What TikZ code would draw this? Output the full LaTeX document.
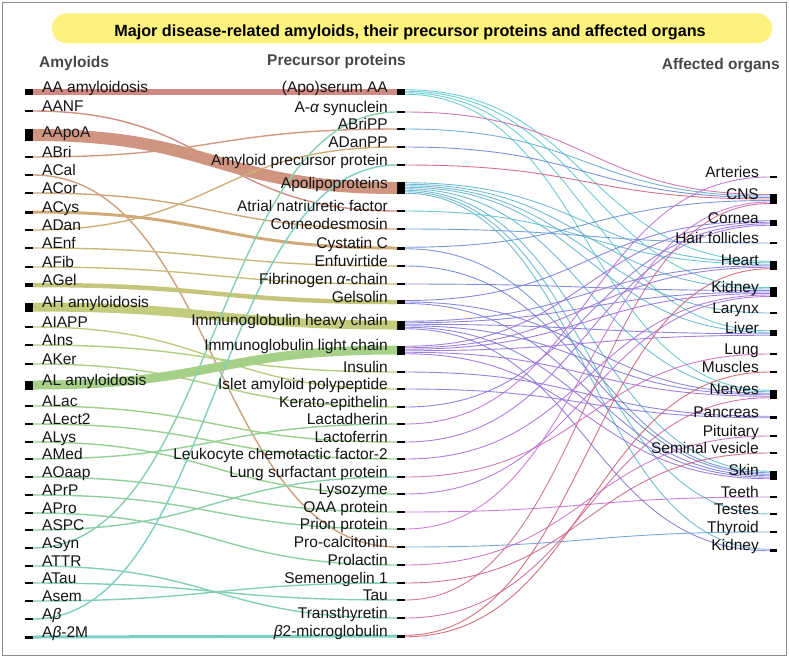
\documentclass[tikz,border=0pt]{standalone}
\usepackage{fontspec}
\setmainfont{Liberation Sans}
\usepackage{tikz}
\usetikzlibrary{calc,positioning}
% gradient anchors (organ links)
\definecolor{R0}{HTML}{5EC8CC}
\definecolor{R1}{HTML}{6C86D6}
\definecolor{R2}{HTML}{9070DC}
\definecolor{R3}{HTML}{C870D0}
\definecolor{R4}{HTML}{D0606E}
% gradient anchors (amyloid links)
\definecolor{L0}{HTML}{D08A84}
\definecolor{L1}{HTML}{D0AA78}
\definecolor{L2}{HTML}{C2CC7C}
\definecolor{L3}{HTML}{98D08C}
\definecolor{L4}{HTML}{7CCFC4}
\definecolor{titleyellow}{HTML}{FDF27E}

\begin{document}
\begin{tikzpicture}[x=1pt,y=-1pt]
  \tikzset{
    amybar/.style={fill=black, inner sep=0pt, outer sep=0pt, minimum width=8pt, minimum height=2.2pt},
    prebar/.style={amybar},
    orgbar/.style={amybar, minimum width=7.5pt},
    lbl/.style={font=\fontsize{15.5}{18}\selectfont, text=black!92, inner sep=0pt},
    amylbl/.style={lbl, anchor=base west},
    prelbl/.style={lbl, anchor=base east},
    orglbl/.style={lbl, anchor=base east},
    hdr/.style={font=\bfseries\fontsize{15.5}{18}\selectfont, text=black!72, inner sep=0pt},
    flow/.style={to path={.. controls +(182,0) and +(-182,0) .. (\tikztotarget)}},
    alink/.style={line cap=butt},
    olink/.style={line width=0.9pt, opacity=0.9},
    outerframe/.style={draw=black!45, line width=1pt},
    titlebox/.style={fill=titleyellow, rounded corners=15pt, minimum width=720pt, minimum height=30pt, inner sep=0pt}
  }
  \useasboundingbox (0,0) rectangle (789,657);
  \draw[outerframe] (2,2) rectangle (786,655);

  % ================= TITLE + HEADERS =================
  \node[titlebox] (tbox) at (412,28.3) {};
  \node[font=\bfseries\fontsize{16.2}{19}\selectfont, anchor=base, inner sep=0pt] (title) at (410,36)
    {Major disease-related amyloids, their precursor proteins and affected organs};
  \node[hdr, anchor=base west] (hamy) at (39,67) {Amyloids};
  \node[hdr, anchor=base west] (hpre) at (267,65) {Precursor proteins};
  \node[hdr, anchor=base east] (horg) at (780,69) {Affected organs};

  % ================= BARS: amyloids =================
  \node[amybar, minimum height=6pt] (am0) at (29,92) {};
  \node[amybar] (am1) at (29,111) {};
  \node[amybar, minimum height=12pt] (am2) at (29,135) {};
  \node[amybar] (am3) at (29,157) {};
  \node[amybar] (am4) at (29,175) {};
  \node[amybar] (am5) at (29,193) {};
  \node[amybar, minimum height=3pt] (am6) at (29,212) {};
  \node[amybar] (am7) at (29,230) {};
  \node[amybar] (am8) at (29,248) {};
  \node[amybar] (am9) at (29,267) {};
  \node[amybar, minimum height=4.5pt] (am10) at (29,285) {};
  \node[amybar, minimum height=9pt] (am11) at (29,307) {};
  \node[amybar] (am12) at (29,327) {};
  \node[amybar] (am13) at (29,345) {};
  \node[amybar] (am14) at (29,364) {};
  \node[amybar, minimum height=9pt] (am15) at (29,385) {};
  \node[amybar] (am16) at (29,406) {};
  \node[amybar] (am17) at (29,424) {};
  \node[amybar] (am18) at (29,442) {};
  \node[amybar] (am19) at (29,459) {};
  \node[amybar] (am20) at (29,477) {};
  \node[amybar] (am21) at (29,495) {};
  \node[amybar] (am22) at (29,513) {};
  \node[amybar] (am23) at (29,530) {};
  \node[amybar] (am24) at (29,548) {};
  \node[amybar] (am25) at (29,566) {};
  \node[amybar] (am26) at (29,583) {};
  \node[amybar] (am27) at (29,601) {};
  \node[amybar] (am28) at (29,619) {};
  \node[amybar, minimum height=3pt] (am29) at (29,637) {};

  % ================= BARS: precursors =================
  \node[prebar, minimum height=6pt] (pr0) at (401,92) {};
  \node[prebar] (pr1) at (401,112) {};
  \node[prebar] (pr2) at (401,129) {};
  \node[prebar] (pr3) at (401,147) {};
  \node[prebar] (pr4) at (401,165) {};
  \node[prebar, minimum height=12pt] (pr5) at (401,188) {};
  \node[prebar] (pr6) at (401,211) {};
  \node[prebar] (pr7) at (401,229) {};
  \node[prebar, minimum height=3pt] (pr8) at (401,248) {};
  \node[prebar] (pr9) at (401,266) {};
  \node[prebar] (pr10) at (401,284) {};
  \node[prebar, minimum height=4.5pt] (pr11) at (401,302) {};
  \node[prebar, minimum height=9pt] (pr12) at (401,325) {};
  \node[prebar, minimum height=9pt] (pr13) at (401,350) {};
  \node[prebar] (pr14) at (401,372) {};
  \node[prebar] (pr15) at (401,389) {};
  \node[prebar] (pr16) at (401,407) {};
  \node[prebar] (pr17) at (401,424) {};
  \node[prebar] (pr18) at (401,442) {};
  \node[prebar] (pr19) at (401,459) {};
  \node[prebar] (pr20) at (401,477) {};
  \node[prebar] (pr21) at (401,494) {};
  \node[prebar] (pr22) at (401,512) {};
  \node[prebar] (pr23) at (401,529) {};
  \node[prebar] (pr24) at (401,547) {};
  \node[prebar] (pr25) at (401,565) {};
  \node[prebar] (pr26) at (401,583) {};
  \node[prebar] (pr27) at (401,600) {};
  \node[prebar] (pr28) at (401,618) {};
  \node[prebar, minimum height=3pt] (pr29) at (401,636) {};

  % ================= BARS: organs =================
  \node[orgbar] (og0) at (773.5,177) {};
  \node[orgbar, minimum height=10.5pt] (og1) at (773.5,199) {};
  \node[orgbar, minimum height=6pt] (og2) at (773.5,223) {};
  \node[orgbar] (og3) at (773.5,243) {};
  \node[orgbar, minimum height=9pt] (og4) at (773.5,265) {};
  \node[orgbar, minimum height=10.5pt] (og5) at (773.5,292) {};
  \node[orgbar] (og6) at (773.5,313) {};
  \node[orgbar, minimum height=6pt] (og7) at (773.5,333) {};
  \node[orgbar] (og8) at (773.5,354) {};
  \node[orgbar] (og9) at (773.5,372) {};
  \node[orgbar, minimum height=9pt] (og10) at (773.5,394) {};
  \node[orgbar, minimum height=3pt] (og11) at (773.5,417) {};
  \node[orgbar] (og12) at (773.5,436) {};
  \node[orgbar] (og13) at (773.5,453) {};
  \node[orgbar, minimum height=9pt] (og14) at (773.5,475) {};
  \node[orgbar] (og15) at (773.5,497) {};
  \node[orgbar] (og16) at (773.5,514) {};
  \node[orgbar] (og17) at (773.5,532) {};
  \node[orgbar, minimum height=3pt] (og18) at (773.5,550) {};

  % ================= LINKS: precursor -> organ =================
  \draw[olink, draw=R0] ($(pr0.east)+(0,-2.25)$) to[flow] ($(og4.west)+(0,-3.75)$);
  \draw[olink, draw=R0] ($(pr0.east)+(0,-0.75)$) to[flow] ($(og5.west)+(0,-4.5)$);
  \draw[olink, draw=R0] ($(pr0.east)+(0,0.75)$) to[flow] ($(og7.west)+(0,-2.25)$);
  \draw[olink, draw=R0] ($(pr0.east)+(0,2.25)$) to[flow] ($(og10.west)+(0,-3.75)$);
  \draw[olink, draw=R3!62!R4] (pr1.east) to[flow] ($(og1.west)+(0,-4.5)$);
  \draw[olink, draw=R0!57!R1] (pr2.east) to[flow] ($(og1.west)+(0,-3)$);
  \draw[olink, draw=R1] (pr3.east) to[flow] ($(og1.west)+(0,-1.5)$);
  \draw[olink, draw=R3!12!R4] (pr4.east) to[flow] (og1.west);
  \draw[olink, draw=R0!71!R1] ($(pr5.east)+(0,-5.25)$) to[flow] ($(og4.west)+(0,-2.25)$);
  \draw[olink, draw=R0!71!R1] ($(pr5.east)+(0,-3.75)$) to[flow] ($(og5.west)+(0,-3)$);
  \draw[olink, draw=R0!71!R1] ($(pr5.east)+(0,-2.25)$) to[flow] (og6.west);
  \draw[olink, draw=R0!71!R1] ($(pr5.east)+(0,-0.75)$) to[flow] ($(og7.west)+(0,-0.75)$);
  \draw[olink, draw=R0!71!R1] ($(pr5.east)+(0,0.75)$) to[flow] ($(og10.west)+(0,-2.25)$);
  \draw[olink, draw=R0!71!R1] ($(pr5.east)+(0,2.25)$) to[flow] ($(og14.west)+(0,-3.75)$);
  \draw[olink, draw=R0!71!R1] ($(pr5.east)+(0,3.75)$) to[flow] (og16.west);
  \draw[olink, draw=R0!71!R1] ($(pr5.east)+(0,5.25)$) to[flow] ($(og18.west)+(0,-0.75)$);
  \draw[olink, draw=R0!86!R1] (pr6.east) to[flow] ($(og4.west)+(0,-0.75)$);
  \draw[olink, draw=R0!29!R1] (pr7.east) to[flow] (og3.west);
  \draw[olink, draw=R0!14!R1] ($(pr8.east)+(0,-0.75)$) to[flow] ($(og1.west)+(0,1.5)$);
  \draw[olink, draw=R0!14!R1] ($(pr8.east)+(0,0.75)$) to[flow] ($(og14.west)+(0,-2.25)$);
  \draw[olink, draw=R1!86!R2] (pr9.east) to[flow] ($(og14.west)+(0,-0.75)$);
  \draw[olink, draw=R1!71!R2] (pr10.east) to[flow] ($(og5.west)+(0,-1.5)$);
  \draw[olink, draw=R1!57!R2] ($(pr11.east)+(0,-1.5)$) to[flow] ($(og2.west)+(0,-2.25)$);
  \draw[olink, draw=R1!57!R2] (pr11.east) to[flow] ($(og10.west)+(0,-0.75)$);
  \draw[olink, draw=R1!57!R2] ($(pr11.east)+(0,1.5)$) to[flow] ($(og14.west)+(0,0.75)$);
  \draw[olink, draw=R1!43!R2] ($(pr12.east)+(0,-3.75)$) to[flow] ($(og4.west)+(0,0.75)$);
  \draw[olink, draw=R1!43!R2] ($(pr12.east)+(0,-2.25)$) to[flow] (og5.west);
  \draw[olink, draw=R1!43!R2] ($(pr12.east)+(0,-0.75)$) to[flow] ($(og7.west)+(0,0.75)$);
  \draw[olink, draw=R1!43!R2] ($(pr12.east)+(0,0.75)$) to[flow] ($(og10.west)+(0,0.75)$);
  \draw[olink, draw=R1!43!R2] ($(pr12.east)+(0,2.25)$) to[flow] ($(og14.west)+(0,2.25)$);
  \draw[olink, draw=R1!43!R2] ($(pr12.east)+(0,3.75)$) to[flow] ($(og18.west)+(0,0.75)$);
  \draw[olink, draw=R2!86!R3] ($(pr13.east)+(0,-3.75)$) to[flow] ($(og2.west)+(0,-0.75)$);
  \draw[olink, draw=R2!86!R3] ($(pr13.east)+(0,-2.25)$) to[flow] ($(og4.west)+(0,2.25)$);
  \draw[olink, draw=R2!86!R3] ($(pr13.east)+(0,-0.75)$) to[flow] ($(og5.west)+(0,1.5)$);
  \draw[olink, draw=R2!86!R3] ($(pr13.east)+(0,0.75)$) to[flow] ($(og7.west)+(0,2.25)$);
  \draw[olink, draw=R2!86!R3] ($(pr13.east)+(0,2.25)$) to[flow] ($(og10.west)+(0,2.25)$);
  \draw[olink, draw=R2!86!R3] ($(pr13.east)+(0,3.75)$) to[flow] ($(og14.west)+(0,3.75)$);
  \draw[olink, draw=R1!14!R2] (pr14.east) to[flow] ($(og11.west)+(0,-0.75)$);
  \draw[olink, draw=R1!29!R2] (pr15.east) to[flow] ($(og11.west)+(0,0.75)$);
  \draw[olink, draw=R2] (pr16.east) to[flow] ($(og2.west)+(0,0.75)$);
  \draw[olink, draw=R2!29!R3] (pr17.east) to[flow] (og0.west);
  \draw[olink, draw=R2!71!R3] (pr18.east) to[flow] ($(og2.west)+(0,2.25)$);
  \draw[olink, draw=R2!57!R3] (pr19.east) to[flow] ($(og5.west)+(0,3)$);
  \draw[olink, draw=R3!75!R4] (pr20.east) to[flow] (og8.west);
  \draw[olink, draw=R2!43!R3] (pr21.east) to[flow] ($(og5.west)+(0,4.5)$);
  \draw[olink, draw=R2!14!R3] (pr22.east) to[flow] (og15.west);
  \draw[olink, draw=R3] (pr23.east) to[flow] ($(og1.west)+(0,3)$);
  \draw[olink, draw=R0!43!R1] (pr24.east) to[flow] (og17.west);
  \draw[olink, draw=R3!88!R4] (pr25.east) to[flow] (og12.west);
  \draw[olink, draw=R3!25!R4] (pr26.east) to[flow] (og13.west);
  \draw[olink, draw=R3!38!R4] (pr27.east) to[flow] ($(og1.west)+(0,4.5)$);
  \draw[olink, draw=R3!50!R4] (pr28.east) to[flow] ($(og10.west)+(0,3.75)$);
  \draw[olink, draw=R4] ($(pr29.east)+(0,-0.75)$) to[flow] ($(og4.west)+(0,3.75)$);
  \draw[olink, draw=R4] ($(pr29.east)+(0,0.75)$) to[flow] (og9.west);

  % ================= LINKS: amyloid -> precursor =================
  \draw[alink, line width=6pt, draw=L0] (am0.east) to[flow] (pr0.west);
  \draw[alink, line width=1.4pt, draw=L0!83!L1] (am1.east) to[flow] (pr6.west);
  \draw[alink, line width=12pt, draw=L0!67!L1] (am2.east) to[flow] (pr5.west);
  \draw[alink, line width=1.4pt, draw=L0!50!L1] (am3.east) to[flow] (pr2.west);
  \draw[alink, line width=1.4pt, draw=L0!33!L1] (am4.east) to[flow] (pr24.west);
  \draw[alink, line width=1.4pt, draw=L0!17!L1] (am5.east) to[flow] (pr7.west);
  \draw[alink, line width=3pt, draw=L1] (am6.east) to[flow] (pr8.west);
  \draw[alink, line width=1.4pt, draw=L1!80!L2] (am7.east) to[flow] (pr3.west);
  \draw[alink, line width=1.4pt, draw=L1!60!L2] (am8.east) to[flow] (pr9.west);
  \draw[alink, line width=1.4pt, draw=L1!40!L2] (am9.east) to[flow] (pr10.west);
  \draw[alink, line width=4.5pt, draw=L1!20!L2] (am10.east) to[flow] (pr11.west);
  \draw[alink, line width=9pt, draw=L2] (am11.east) to[flow] (pr12.west);
  \draw[alink, line width=1.4pt, draw=L2!83!L3] (am12.east) to[flow] (pr15.west);
  \draw[alink, line width=1.4pt, draw=L2!67!L3] (am13.east) to[flow] (pr14.west);
  \draw[alink, line width=1.4pt, draw=L2!50!L3] (am14.east) to[flow] (pr16.west);
  \draw[alink, line width=9pt, draw=L2!33!L3] (am15.east) to[flow] (pr13.west);
  \draw[alink, line width=1.4pt, draw=L2!17!L3] (am16.east) to[flow] (pr18.west);
  \draw[alink, line width=1.4pt, draw=L3] (am17.east) to[flow] (pr19.west);
  \draw[alink, line width=1.4pt, draw=L3!92!L4] (am18.east) to[flow] (pr21.west);
  \draw[alink, line width=1.4pt, draw=L3!83!L4] (am19.east) to[flow] (pr17.west);
  \draw[alink, line width=1.4pt, draw=L3!75!L4] (am20.east) to[flow] (pr22.west);
  \draw[alink, line width=1.4pt, draw=L3!67!L4] (am21.east) to[flow] (pr23.west);
  \draw[alink, line width=1.4pt, draw=L3!58!L4] (am22.east) to[flow] (pr25.west);
  \draw[alink, line width=1.4pt, draw=L3!50!L4] (am23.east) to[flow] (pr20.west);
  \draw[alink, line width=1.4pt, draw=L3!42!L4] (am24.east) to[flow] (pr1.west);
  \draw[alink, line width=1.4pt, draw=L3!33!L4] (am25.east) to[flow] (pr28.west);
  \draw[alink, line width=1.4pt, draw=L3!25!L4] (am26.east) to[flow] (pr27.west);
  \draw[alink, line width=1.4pt, draw=L3!17!L4] (am27.east) to[flow] (pr26.west);
  \draw[alink, line width=1.4pt, draw=L3!8!L4] (am28.east) to[flow] (pr4.west);
  \draw[alink, line width=3pt, draw=L4] (am29.east) to[flow] (pr29.west);

  % ================= LABELS =================
  \node[amylbl] (am0-l) at (42,92) {AA amyloidosis};
  \node[amylbl] (am1-l) at (42,111) {AANF};
  \node[amylbl] (am2-l) at (42,137) {AApoA};
  \node[amylbl] (am3-l) at (42,157) {ABri};
  \node[amylbl] (am4-l) at (42,175) {ACal};
  \node[amylbl] (am5-l) at (42,193) {ACor};
  \node[amylbl] (am6-l) at (42,212) {ACys};
  \node[amylbl] (am7-l) at (42,230) {ADan};
  \node[amylbl] (am8-l) at (42,248) {AEnf};
  \node[amylbl] (am9-l) at (42,267) {AFib};
  \node[amylbl] (am10-l) at (42,285) {AGel};
  \node[amylbl] (am11-l) at (42,307) {AH amyloidosis};
  \node[amylbl] (am12-l) at (42,327) {AIAPP};
  \node[amylbl] (am13-l) at (42,345) {AIns};
  \node[amylbl] (am14-l) at (42,364) {AKer};
  \node[amylbl] (am15-l) at (42,385) {AL amyloidosis};
  \node[amylbl] (am16-l) at (42,406) {ALac};
  \node[amylbl] (am17-l) at (42,424) {ALect2};
  \node[amylbl] (am18-l) at (42,442) {ALys};
  \node[amylbl] (am19-l) at (42,459) {AMed};
  \node[amylbl] (am20-l) at (42,477) {AOaap};
  \node[amylbl] (am21-l) at (42,495) {APrP};
  \node[amylbl] (am22-l) at (42,513) {APro};
  \node[amylbl] (am23-l) at (42,530) {ASPC};
  \node[amylbl] (am24-l) at (42,548) {ASyn};
  \node[amylbl] (am25-l) at (42,566) {ATTR};
  \node[amylbl] (am26-l) at (42,583) {ATau};
  \node[amylbl] (am27-l) at (42,601) {Asem};
  \node[amylbl] (am28-l) at (42,619) {A{\itshape β}};
  \node[amylbl] (am29-l) at (42,637) {A{\itshape β}-2M};

  \node[prelbl] (pr0-l) at (388,92) {(Apo)serum AA};
  \node[prelbl] (pr1-l) at (388,112) {A-{\itshape α} synuclein};
  \node[prelbl] (pr2-l) at (388,129) {ABriPP};
  \node[prelbl] (pr3-l) at (388,147) {ADanPP};
  \node[prelbl] (pr4-l) at (388,165) {Amyloid precursor protein};
  \node[prelbl] (pr5-l) at (388,188) {Apolipoproteins};
  \node[prelbl] (pr6-l) at (388,211) {Atrial natriuretic factor};
  \node[prelbl] (pr7-l) at (388,229) {Corneodesmosin};
  \node[prelbl] (pr8-l) at (388,248) {Cystatin C};
  \node[prelbl] (pr9-l) at (388,266) {Enfuvirtide};
  \node[prelbl] (pr10-l) at (388,284) {Fibrinogen {\itshape α}-chain};
  \node[prelbl] (pr11-l) at (388,302) {Gelsolin};
  \node[prelbl] (pr12-l) at (388,325) {Immunoglobulin heavy chain};
  \node[prelbl] (pr13-l) at (388,350) {Immunoglobulin light chain};
  \node[prelbl] (pr14-l) at (388,372) {Insulin};
  \node[prelbl] (pr15-l) at (388,389) {Islet amyloid polypeptide};
  \node[prelbl] (pr16-l) at (388,407) {Kerato-epithelin};
  \node[prelbl] (pr17-l) at (388,424) {Lactadherin};
  \node[prelbl] (pr18-l) at (388,442) {Lactoferrin};
  \node[prelbl] (pr19-l) at (388,459) {Leukocyte chemotactic factor-2};
  \node[prelbl] (pr20-l) at (388,477) {Lung surfactant protein};
  \node[prelbl] (pr21-l) at (388,494) {Lysozyme};
  \node[prelbl] (pr22-l) at (388,512) {OAA protein};
  \node[prelbl] (pr23-l) at (388,529) {Prion protein};
  \node[prelbl] (pr24-l) at (388,547) {Pro-calcitonin};
  \node[prelbl] (pr25-l) at (388,565) {Prolactin};
  \node[prelbl] (pr26-l) at (388,583) {Semenogelin 1};
  \node[prelbl] (pr27-l) at (388,600) {Tau};
  \node[prelbl] (pr28-l) at (388,618) {Transthyretin};
  \node[prelbl] (pr29-l) at (388,636) {{\itshape β}2-microglobulin};

  \node[orglbl] (og0-l) at (759,177) {Arteries};
  \node[orglbl] (og1-l) at (759,199) {CNS};
  \node[orglbl] (og2-l) at (759,223) {Cornea};
  \node[orglbl] (og3-l) at (759,243) {Hair follicles};
  \node[orglbl] (og4-l) at (759,265) {Heart};
  \node[orglbl] (og5-l) at (759,292) {Kidney};
  \node[orglbl] (og6-l) at (759,313) {Larynx};
  \node[orglbl] (og7-l) at (759,333) {Liver};
  \node[orglbl] (og8-l) at (759,354) {Lung};
  \node[orglbl] (og9-l) at (759,372) {Muscles};
  \node[orglbl] (og10-l) at (759,394) {Nerves};
  \node[orglbl] (og11-l) at (759,417) {Pancreas};
  \node[orglbl] (og12-l) at (759,436) {Pituitary};
  \node[orglbl] (og13-l) at (759,453) {Seminal vesicle};
  \node[orglbl] (og14-l) at (759,475) {Skin};
  \node[orglbl] (og15-l) at (759,497) {Teeth};
  \node[orglbl] (og16-l) at (759,514) {Testes};
  \node[orglbl] (og17-l) at (759,532) {Thyroid};
  \node[orglbl] (og18-l) at (759,550) {Kidney};
\end{tikzpicture}
\end{document}
